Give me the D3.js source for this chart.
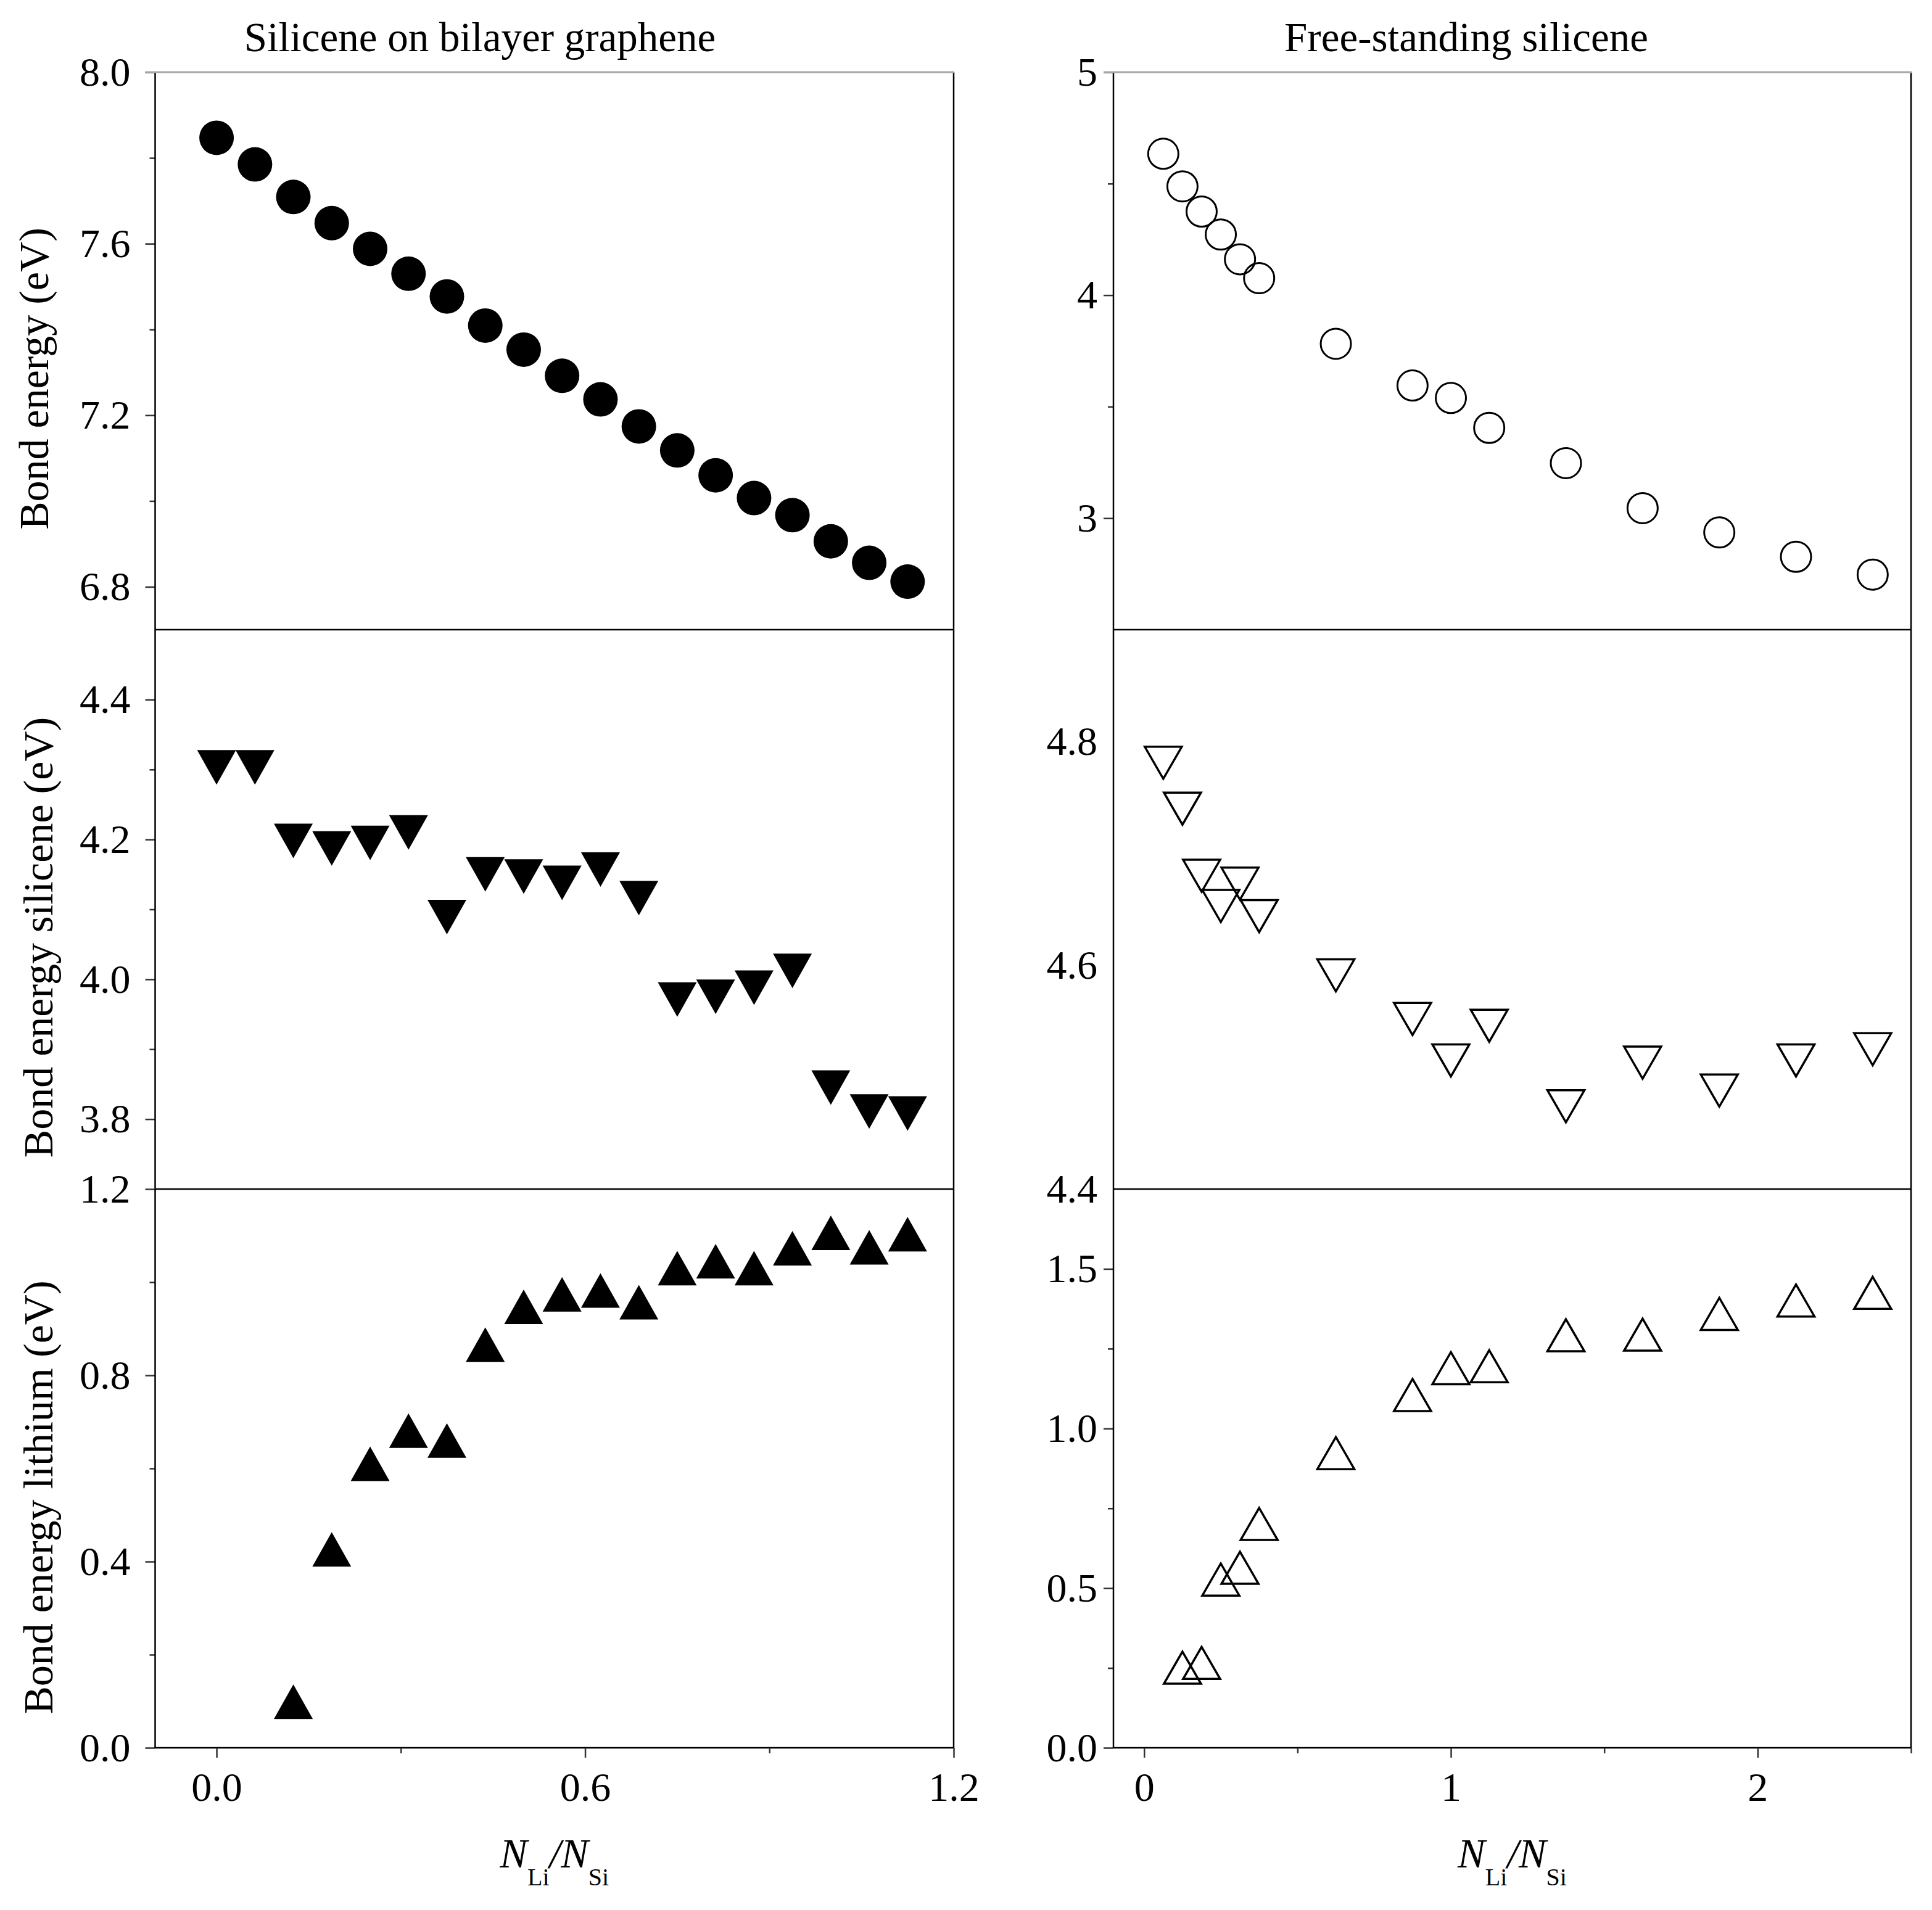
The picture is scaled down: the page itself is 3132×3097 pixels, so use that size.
<!DOCTYPE html>
<html>
<head>
<meta charset="utf-8">
<script src="https://cdn.jsdelivr.net/npm/d3@7"></script>
<style>
  body { margin: 0; background: #fff; }
  text { font-family: "Liberation Serif", "Times New Roman", serif; }
</style>
</head>
<body>
<div id="chart"></div>
<script>
// ---- data ----
// silicene on bilayer graphene
var leftX = [0, 0.0625, 0.125, 0.1875, 0.25, 0.3125, 0.375, 0.4375, 0.5, 0.5625,
             0.625, 0.6875, 0.75, 0.8125, 0.875, 0.9375, 1.0, 1.0625, 1.125];
var leftTotal = [7.847, 7.785, 7.709, 7.648, 7.588, 7.530, 7.477, 7.409, 7.353, 7.292,
                 7.237, 7.174, 7.118, 7.060, 7.007, 6.967, 6.906, 6.856, 6.812];
var leftSilicene = [4.303, 4.303, 4.198, 4.187, 4.195, 4.210, 4.089, 4.150, 4.147, 4.138,
                    4.157, 4.116, 3.971, 3.975, 3.988, 4.012, 3.845, 3.811, 3.808];
var leftLiX = [0.125, 0.1875, 0.25, 0.3125, 0.375, 0.4375, 0.5, 0.5625, 0.625,
               0.6875, 0.75, 0.8125, 0.875, 0.9375, 1.0, 1.0625, 1.125];
var leftLithium = [0.099, 0.426, 0.610, 0.681, 0.660, 0.866, 0.947, 0.974, 0.982,
                   0.957, 1.030, 1.045, 1.030, 1.073, 1.106, 1.075, 1.103];

// free-standing silicene
var rightX = [0.0625, 0.125, 0.1875, 0.25, 0.3125, 0.375, 0.625, 0.875, 1.0, 1.125,
              1.375, 1.625, 1.875, 2.125, 2.375];
var rightTotal = [4.634, 4.488, 4.375, 4.272, 4.161, 4.076, 3.782, 3.595, 3.539, 3.405,
                  3.247, 3.045, 2.936, 2.827, 2.747];
var rightSilicene = [4.781, 4.740, 4.680, 4.653, 4.673, 4.644, 4.591, 4.552, 4.515, 4.546,
                     4.474, 4.513, 4.488, 4.515, 4.525];
var rightLiX = [0.125, 0.1875, 0.25, 0.3125, 0.375, 0.625, 0.875, 1.0, 1.125,
                1.375, 1.625, 1.875, 2.125, 2.375];
var rightLithium = [0.251, 0.266, 0.527, 0.564, 0.701, 0.923, 1.105, 1.189, 1.195,
                    1.292, 1.294, 1.359, 1.401, 1.425];

// titles / labels / ticks
var titles = ["Silicene on bilayer graphene", "Free-standing silicene"];
var yLabels = ["Bond energy (eV)", "Bond energy silicene (eV)", "Bond energy lithium (eV)"];
var leftXTicks = [0, 0.6, 1.2], leftXMinor = [0.3, 0.9];
var rightXTicks = [0, 1, 2], rightXMinor = [0.5, 1.5, 2.5];

var W = 3132, H = 3097;
var cols = [
  {x0: 251.5, x1: 1546, domain: [-0.1, 1.2], ticks: leftXTicks, minor: leftXMinor, fmt: ".1f", pad: 24, title: titles[0], tx: 778},
  {x0: 1805, x1: 3098, domain: [-0.1, 2.5], ticks: rightXTicks, minor: rightXMinor, fmt: "d", pad: 10, title: titles[1], tx: 2377}
];
var rows = [[117, 1021], [1021, 1928], [1928, 2834]];

var panels = [
  {col: 0, row: 0, x: leftX, y: leftTotal, dom: [6.7, 8.0], major: [6.8, 7.2, 7.6, 8.0], minor: [7.0, 7.4, 7.8], fmt: ".1f", mark: "circle", filled: true},
  {col: 0, row: 1, x: leftX, y: leftSilicene, dom: [3.7, 4.5], major: [3.8, 4.0, 4.2, 4.4], minor: [3.9, 4.1, 4.3], fmt: ".1f", mark: "down", filled: true},
  {col: 0, row: 2, x: leftLiX, y: leftLithium, dom: [0, 1.2], major: [0, 0.4, 0.8, 1.2], minor: [0.2, 0.6, 1.0], fmt: ".1f", mark: "up", filled: true},
  {col: 1, row: 0, x: rightX, y: rightTotal, dom: [2.5, 5], major: [3, 4, 5], minor: [3.5, 4.5], fmt: "d", mark: "circle", filled: false},
  {col: 1, row: 1, x: rightX, y: rightSilicene, dom: [4.4, 4.9], major: [4.4, 4.6, 4.8], minor: [], fmt: ".1f", mark: "down", filled: false, noTicks: true},
  {col: 1, row: 2, x: rightLiX, y: rightLithium, dom: [0, 1.75], major: [0, 0.5, 1.0, 1.5], minor: [0.25, 0.75, 1.25], fmt: ".1f", mark: "up", filled: false}
];

var FONT = '"Liberation Serif", "Times New Roman", serif';
var svg = d3.select("#chart").append("svg").attr("width", W).attr("height", H);

function tri(dir, w, h) {
  if (dir == "down") return "M" + (-w/2) + "," + (-h/2) + "L" + (w/2) + "," + (-h/2) + "L0," + (h/2) + "Z";
  return "M0," + (-h/2) + "L" + (w/2) + "," + (h/2) + "L" + (-w/2) + "," + (h/2) + "Z";
}

function styleAxis(g, size) {
  g.select(".domain").remove();
  g.attr("font-family", FONT).attr("font-size", size).attr("fill", "#000");
  g.selectAll(".tick line").attr("stroke", "#333").attr("stroke-width", 2.5);
  g.selectAll(".tick text").attr("fill", "#000");
}

panels.forEach(function(p) {
  var c = cols[p.col], r = rows[p.row];
  var x = d3.scaleLinear().domain(c.domain).range([c.x0, c.x1]);
  var y = d3.scaleLinear().domain(p.dom).range([r[1], r[0]]);

  // minor ticks
  if (p.minor.length) {
    var gm = svg.append("g").attr("transform", "translate(" + c.x0 + ",0)")
      .call(d3.axisLeft(y).tickValues(p.minor).tickSize(9).tickFormat(""));
    styleAxis(gm, 66);
  }
  // major ticks + labels
  var ga = svg.append("g").attr("transform", "translate(" + c.x0 + ",0)")
    .call(d3.axisLeft(y).tickValues(p.major)
      .tickSize(p.noTicks ? 0 : 16)
      .tickPadding(p.noTicks ? 26 : c.pad)
      .tickFormat(d3.format(p.fmt)));
  styleAxis(ga, 66);

  // frame
  svg.append("line").attr("x1", c.x0).attr("x2", c.x0).attr("y1", r[0]).attr("y2", r[1])
    .attr("stroke", "#000").attr("stroke-width", 2.5);
  svg.append("line").attr("x1", c.x1).attr("x2", c.x1).attr("y1", r[0]).attr("y2", r[1])
    .attr("stroke", "#000").attr("stroke-width", 2.5);
  svg.append("line").attr("x1", c.x0).attr("x2", c.x1).attr("y1", r[1]).attr("y2", r[1])
    .attr("stroke", "#000").attr("stroke-width", 2.5);
  if (p.row == 0) {
    svg.append("line").attr("x1", c.x0 - 16).attr("x2", c.x1 + 1).attr("y1", r[0]).attr("y2", r[0])
      .attr("stroke", "#a8a8a8").attr("stroke-width", 3);
  }

  // markers
  var pts = p.x.map(function(d, i) { return [d, p.y[i]]; });
  var gp = svg.append("g");
  if (p.mark == "circle") {
    gp.selectAll("circle").data(pts).enter().append("circle")
      .attr("cx", function(d) { return x(d[0]); })
      .attr("cy", function(d) { return y(d[1]); })
      .attr("r", p.filled ? 28 : 24.5)
      .attr("fill", p.filled ? "#000" : "none")
      .attr("stroke", p.filled ? "none" : "#000")
      .attr("stroke-width", 3);
  } else {
    gp.selectAll("path").data(pts).enter().append("path")
      .attr("transform", function(d) { return "translate(" + x(d[0]) + "," + y(d[1]) + ")"; })
      .attr("d", p.filled ? tri(p.mark, 63, 56) : tri(p.mark, 60, 52))
      .attr("fill", p.filled ? "#000" : "none")
      .attr("stroke", p.filled ? "none" : "#000")
      .attr("stroke-width", 3.5)
      .attr("stroke-linejoin", "miter");
  }

  // bottom axis
  if (p.row == 2) {
    var gxm = svg.append("g").attr("transform", "translate(0," + r[1] + ")")
      .call(d3.axisBottom(x).tickValues(c.minor).tickSize(9).tickFormat(""));
    styleAxis(gxm, 66);
    var gx = svg.append("g").attr("transform", "translate(0," + r[1] + ")")
      .call(d3.axisBottom(x).tickValues(c.ticks).tickSize(16).tickPadding(23).tickFormat(d3.format(c.fmt)));
    styleAxis(gx, 66);

    // x label N_Li / N_Si
    var xl = svg.append("text").attr("x", (c.x0 + c.x1) / 2).attr("y", 3028)
      .attr("text-anchor", "middle").attr("font-size", 67).attr("font-family", FONT);
    xl.append("tspan").attr("font-style", "italic").text("N");
    xl.append("tspan").attr("font-size", 40).attr("dy", 29).text("Li");
    xl.append("tspan").attr("font-style", "italic").attr("dy", -29).text("/");
    xl.append("tspan").attr("font-style", "italic").text("N");
    xl.append("tspan").attr("font-size", 40).attr("dy", 29).text("Si");
  }
});

// titles
cols.forEach(function(c) {
  svg.append("text").attr("x", c.tx).attr("y", 83).attr("text-anchor", "middle")
    .attr("font-size", 67).attr("font-family", FONT).text(c.title);
});

// y labels (left column only)
var yLabPos = [[78, 614], [85, 1520], [85, 2428]];
yLabels.forEach(function(t, i) {
  svg.append("text")
    .attr("transform", "translate(" + yLabPos[i][0] + "," + yLabPos[i][1] + ") rotate(-90)")
    .attr("text-anchor", "middle").attr("font-size", 68).attr("font-family", FONT).text(t);
});
</script>
</body>
</html>
